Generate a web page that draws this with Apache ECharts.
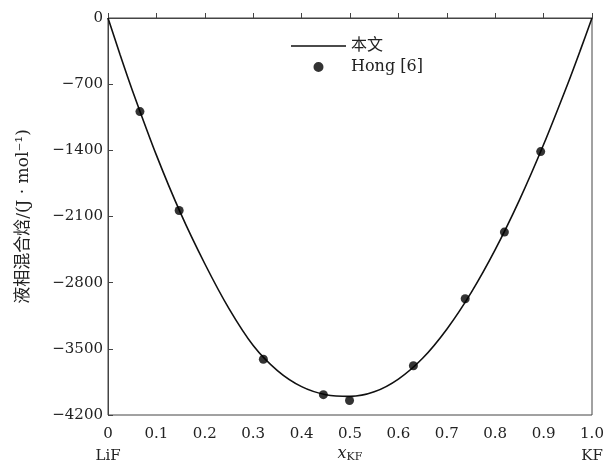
<!DOCTYPE html>
<html>
<head>
    <meta charset="utf-8">
    <title>液相混合焓</title>
    <script src="https://cdn.jsdelivr.net/npm/echarts@6/dist/echarts.min.js"></script>
    <style type="text/css">
        * {
            margin: 0;
            padding: 0;
        }

        body {
            background: #fff;
        }
    </style>
</head>
<body>
<div id="main" style="width: 605px;height: 463px;"></div>
<script type="text/javascript">
    // 本文 计算曲线 (x_KF, J/mol)
    var curveX = [0, 0.025, 0.05, 0.1, 0.15, 0.2, 0.25, 0.3, 0.35, 0.4, 0.45, 0.5, 0.55, 0.6, 0.65, 0.7, 0.75, 0.8, 0.85, 0.9, 0.95, 0.975, 1];
    var curveY = [0, -389, -761, -1451, -2065, -2600, -3075, -3465, -3730, -3900, -3985, -4003, -3955, -3820, -3600, -3292, -2908, -2451, -1927, -1339, -695, -353, 0];
    // Hong [6] 实验点
    var hongX = [0.066, 0.147, 0.321, 0.445, 0.499, 0.631, 0.738, 0.819, 0.894];
    var hongY = [-990, -2037, -3610, -3985, -4046, -3679, -2970, -2265, -1413];
    var yTicks = [0, -700, -1400, -2100, -2800, -3500, -4200];
    var nameList = ['本文', 'Hong [6]'];

    var serif = 'DejaVu Serif, Noto Sans CJK SC';
    // 图例图标: 细横线 / 小圆点 (角上极小的点用来撑开图标框)
    var lineIcon = 'path://M0,6.2H55V7.8H0Z M0,0H0.02V0.02H0Z M55,14H54.98V13.98H55Z';
    var dotIcon = 'path://M27.5,2A5,5 0 1 1 27.49,2Z M0,0H0.02V0.02H0Z M55,14H54.98V13.98H55Z';
    var myChart = echarts.init(document.getElementById('main'));

    var lineData = [];
    for (var i = 0; i < curveX.length; i++) {
        lineData.push([curveX[i], curveY[i]]);
    }
    var dotData = [];
    for (var j = 0; j < hongX.length; j++) {
        dotData.push([hongX[j], hongY[j]]);
    }

    var option = {
        animation: false,
        grid: {
            left: 108,
            right: 13,
            top: 18,
            bottom: 48,
            outerBoundsMode: 'none',
            containLabel: false,
            show: true,
            borderColor: '#444',
            borderWidth: 1
        },
        legend: {
            orient: 'vertical',
            left: 286,
            top: 33,
            itemWidth: 55,
            itemHeight: 14,
            itemGap: 5,
            selectedMode: false,
            textStyle: {
                fontFamily: serif,
                fontSize: 16,
                color: '#222'
            },
            data: [
                {name: nameList[0], icon: lineIcon, itemStyle: {color: '#111'}},
                {name: nameList[1], icon: dotIcon, itemStyle: {color: '#000'}}
            ]
        },
        xAxis: {
            type: 'value',
            min: 0,
            max: 1,
            interval: 0.1,
            splitLine: {show: false},
            axisLine: {lineStyle: {color: '#444', width: 1}},
            axisTick: {inside: true, length: 5, lineStyle: {color: '#444'}},
            axisLabel: {
                margin: 8,
                lineHeight: 22,
                fontFamily: serif,
                fontSize: 15,
                color: '#222',
                formatter: function (v) {
                    if (v === 0) return '0\nLiF';
                    if (Math.abs(v - 1) < 1e-9) return '1.0\nKF';
                    return v.toFixed(1);
                }
            },
            name: '{i|x}{s|KF}',
            nameLocation: 'middle',
            nameGap: 29,
            nameMoveOverlap: false,
            nameTextStyle: {
                rich: {
                    i: {fontFamily: serif, fontStyle: 'italic', fontSize: 16, color: '#222'},
                    s: {fontFamily: serif, fontSize: 11, color: '#222', verticalAlign: 'bottom', padding: [8, 0, 0, 0]}
                }
            }
        },
        yAxis: {
            type: 'value',
            min: yTicks[yTicks.length - 1],
            max: yTicks[0],
            interval: 700,
            splitLine: {show: false},
            axisLine: {lineStyle: {color: '#444', width: 1}},
            axisTick: {inside: true, length: 5, lineStyle: {color: '#444'}},
            axisLabel: {
                margin: 5,
                fontFamily: serif,
                fontSize: 15,
                color: '#222',
                formatter: function (v) {
                    return String(v).replace('-', '\u2212');
                }
            },
            name: '液相混合焓/(J · mol⁻¹)',
            nameLocation: 'middle',
            nameGap: 76,
            nameMoveOverlap: false,
            nameTextStyle: {
                fontFamily: serif,
                fontSize: 17,
                color: '#222'
            }
        },
        series: [{
            name: nameList[0],
            type: 'line',
            smooth: 0.3,
            symbol: 'none',
            lineStyle: {color: '#111', width: 1.6},
            itemStyle: {color: '#111'},
            data: lineData,
            z: 2
        }, {
            name: nameList[1],
            type: 'scatter',
            symbol: 'circle',
            symbolSize: 9,
            itemStyle: {color: '#000'},
            data: dotData,
            z: 3
        }]
    };
    myChart.setOption(option);
</script>
</body>
</html>
